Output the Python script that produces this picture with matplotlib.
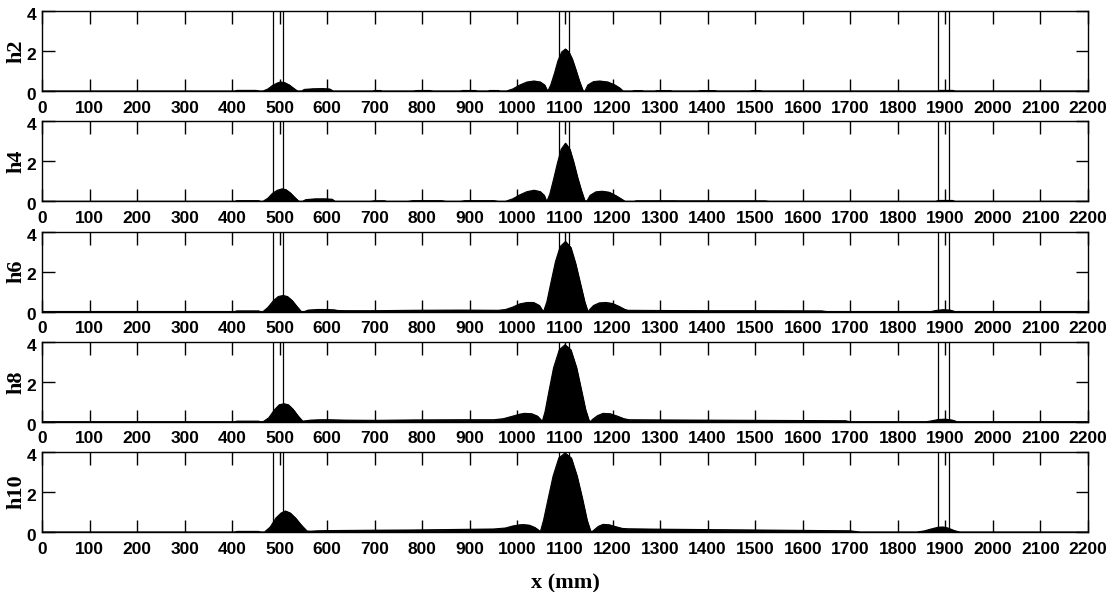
import matplotlib
matplotlib.use("Agg")
import matplotlib.pyplot as plt
from matplotlib.transforms import ScaledTranslation

# Sampled profile points (x in mm, amplitude) for each harmonic
x_h2 = [0, 405, 410, 450, 458, 465, 475, 485, 495, 502, 510, 520, 530, 537,
        546, 552, 570, 590, 605, 612, 695, 700, 712, 715, 780, 790, 815, 822,
        880, 885, 912, 915, 938, 942, 960, 963, 977, 990, 1005, 1020, 1035,
        1048, 1057, 1062, 1064, 1070, 1078, 1085, 1093, 1101, 1108, 1115,
        1122, 1130, 1137, 1139, 1142, 1148, 1160, 1173, 1190, 1205, 1215,
        1222, 1241, 1245, 1262, 1265, 1289, 1293, 1322, 1325, 1380, 1384,
        1416, 1419, 1489, 1493, 1510, 1514, 1884, 1888, 1916, 1920, 2200]
y_h2 = [0, 0, 0.03, 0.03, 0, 0, 0.1, 0.28, 0.4, 0.45, 0.42, 0.3, 0.12, 0,
        0, 0.08, 0.11, 0.12, 0.1, 0, 0, 0.025, 0.025, 0, 0, 0.025, 0.025, 0,
        0, 0.025, 0.025, 0, 0, 0.025, 0.025, 0, 0, 0.1, 0.3, 0.45, 0.5,
        0.45, 0.3, 0.05, 0, 0.3, 0.9, 1.5, 1.95, 2.1, 1.95, 1.6,
        1.1, 0.5, 0.05, 0, 0, 0.3, 0.47, 0.5, 0.45, 0.3, 0.15,
        0, 0, 0.02, 0.02, 0, 0, 0.02, 0.02, 0, 0, 0.02,
        0.02, 0, 0, 0.02, 0.02, 0, 0, 0.03, 0.03, 0, 0]

x_h4 = [0, 405, 410, 455, 460, 465, 475, 485, 495, 505, 513, 522, 532, 540,
        548, 555, 575, 595, 610, 616, 690, 700, 720, 725, 770, 780, 840, 850,
        880, 890, 950, 960, 975, 990, 1005, 1020, 1035, 1048, 1056, 1060,
        1062, 1068, 1076, 1084, 1092, 1101, 1110, 1118, 1126, 1134, 1141,
        1144, 1147, 1153, 1165, 1178, 1193, 1207, 1218, 1226, 1245, 1250,
        1330, 1340, 1400, 1410, 1480, 1490, 1520, 1530, 1880, 1885, 1915,
        1920, 2200]
y_h4 = [0, 0, 0.03, 0.03, 0, 0, 0.15, 0.4, 0.55, 0.62, 0.58, 0.42, 0.18, 0,
        0, 0.08, 0.12, 0.12, 0.1, 0, 0, 0.025, 0.025, 0, 0, 0.03, 0.03, 0,
        0, 0.03, 0.03, 0, 0, 0.12, 0.32, 0.48, 0.55, 0.48, 0.3, 0.05,
        0, 0.35, 1.1, 1.9, 2.6, 2.9, 2.6, 1.95, 1.2, 0.55, 0.05,
        0, 0.05, 0.3, 0.47, 0.5, 0.45, 0.28, 0.12, 0, 0, 0.025,
        0.025, 0.02, 0.02, 0.02, 0.02, 0.02, 0.02, 0, 0, 0.04, 0.04,
        0, 0]

x_h6 = [0, 405, 410, 455, 460, 465, 475, 487, 497, 507, 516, 526, 536, 545,
        552, 560, 580, 600, 615, 622, 640, 700, 780, 880, 960, 975, 990,
        1005, 1020, 1034, 1046, 1051, 1055, 1062, 1070, 1080, 1090, 1101,
        1112, 1122, 1132, 1141, 1147, 1149, 1152, 1160, 1172, 1186, 1200,
        1214, 1226, 1232, 1300, 1400, 1500, 1640, 1650, 1870, 1880, 1895,
        1910, 1920, 2200]
y_h6 = [0, 0, 0.03, 0.03, 0, 0, 0.2, 0.55, 0.75, 0.8, 0.75, 0.55, 0.25, 0,
        0, 0.07, 0.1, 0.1, 0.08, 0.05, 0.04, 0.04, 0.06, 0.07, 0.06, 0.1, 0.22,
        0.38, 0.45, 0.45, 0.3, 0.1, 0, 0.5, 1.4, 2.5, 3.25, 3.5,
        3.2, 2.4, 1.4, 0.5, 0.05, 0, 0.1, 0.3, 0.43, 0.45, 0.4,
        0.25, 0.1, 0.06, 0.05, 0.04, 0.04, 0.03, 0, 0, 0.05, 0.09,
        0.07, 0, 0]

x_h8 = [0, 405, 410, 455, 460, 465, 477, 489, 499, 509, 518, 528, 538, 548,
        555, 565, 585, 605, 620, 640, 700, 780, 880, 950, 970, 990, 1005,
        1015, 1030, 1042, 1049, 1052, 1058, 1066, 1076, 1088, 1100, 1112,
        1124, 1134, 1143, 1150, 1153, 1158, 1168, 1180, 1195, 1210, 1224,
        1235, 1300, 1400, 1500, 1600, 1690, 1700, 1860, 1870, 1885, 1900,
        1915, 1925, 2200]
y_h8 = [0, 0, 0.03, 0.03, 0, 0, 0.2, 0.6, 0.85, 0.9, 0.85, 0.62, 0.3, 0.03,
        0.05, 0.08, 0.1, 0.1, 0.09, 0.08, 0.07, 0.09, 0.1, 0.1, 0.15, 0.28, 0.38,
        0.42, 0.4, 0.28, 0.1, 0, 0.5, 1.5, 2.7, 3.6, 3.85, 3.6,
        2.7, 1.6, 0.6, 0.08, 0, 0.12, 0.3, 0.42, 0.4, 0.28, 0.15,
        0.1, 0.09, 0.08, 0.07, 0.06, 0.05, 0, 0, 0.04, 0.11, 0.13,
        0.08, 0, 0]

x_h10 = [0, 405, 410, 455, 460, 468, 480, 492, 503, 512, 522, 533, 545, 557,
         565, 580, 600, 700, 780, 880, 950, 975, 990, 1005, 1012, 1025,
         1037, 1045, 1048, 1055, 1064, 1075, 1087, 1100, 1113, 1125, 1136,
         1146, 1153, 1156, 1162, 1170, 1180, 1193, 1206, 1220, 1232, 1300,
         1400, 1500, 1600, 1700, 1720, 1840, 1855, 1870, 1885, 1895, 1905,
         1920, 1930, 2200]
y_h10 = [0, 0, 0.03, 0.03, 0, 0, 0.25, 0.7, 0.95, 1.05, 0.95, 0.7, 0.35, 0.05,
         0.04, 0.06, 0.07, 0.09, 0.1, 0.13, 0.15, 0.2, 0.3, 0.36, 0.37, 0.34,
         0.22, 0.08, 0, 0.6, 1.6, 2.8, 3.7, 3.95, 3.7, 2.8, 1.7,
         0.6, 0.08, 0, 0.12, 0.28, 0.38, 0.36, 0.27, 0.18, 0.16, 0.14,
         0.12, 0.1, 0.08, 0.06, 0, 0, 0.05, 0.15, 0.24, 0.25, 0.2,
         0.06, 0, 0]

panels = [("h2", x_h2, y_h2), ("h4", x_h4, y_h4), ("h6", x_h6, y_h6),
          ("h8", x_h8, y_h8), ("h10", x_h10, y_h10)]

# Boundaries of the three marked zones (mm)
zone_edges = [486, 507, 1087, 1108, 1884, 1908]

x_ticks = list(range(0, 2201, 100))
y_ticks = [0, 2, 4]

W, H = 1114, 592
fig = plt.figure(figsize=(W / 100, H / 100), dpi=100)

sans = ["Liberation Sans", "DejaVu Sans"]
serif = ["Liberation Serif", "DejaVu Serif"]

left_px, right_px = 42, 1088
top0_px, step_px, h_px = 11, 110.25, 80

for i, (name, xs, ys) in enumerate(panels):
    top = top0_px + i * step_px
    ax = fig.add_axes([left_px / W, (H - top - h_px) / H,
                       (right_px - left_px) / W, h_px / H])
    ax.fill_between(xs, ys, 0, color="black", linewidth=0.8, edgecolor="black")
    ax.plot(xs, ys, color="black", linewidth=0.8)
    for xe in zone_edges:
        ax.axvline(xe, color="black", linewidth=0.9)
    ax.set_xlim(0, 2200)
    ax.set_ylim(0, 4)
    ax.set_xticks(x_ticks)
    ax.set_yticks(y_ticks)
    ax.tick_params(axis="x", direction="in", length=9, width=1, top=True,
                   pad=7, labelsize=12.5)
    ax.tick_params(axis="y", direction="in", length=9, width=1, right=True,
                   pad=4, labelsize=12.5)
    for lab in ax.get_xticklabels() + ax.get_yticklabels():
        lab.set_family(sans)
        lab.set_fontweight("bold")
    # y tick labels sit slightly below their ticks
    shift = ScaledTranslation(0, -3 / 100, fig.dpi_scale_trans)
    for lab in ax.get_yticklabels():
        lab.set_transform(lab.get_transform() + shift)
    for sp in ax.spines.values():
        sp.set_linewidth(1)
    ax.set_ylabel(name, family=serif, fontweight="bold", fontsize=16,
                  labelpad=0)
    if i == len(panels) - 1:
        ax.set_xlabel("x (mm)", family=serif, fontweight="bold", fontsize=16,
                      labelpad=12)

fig.savefig("out.png", dpi=100)
